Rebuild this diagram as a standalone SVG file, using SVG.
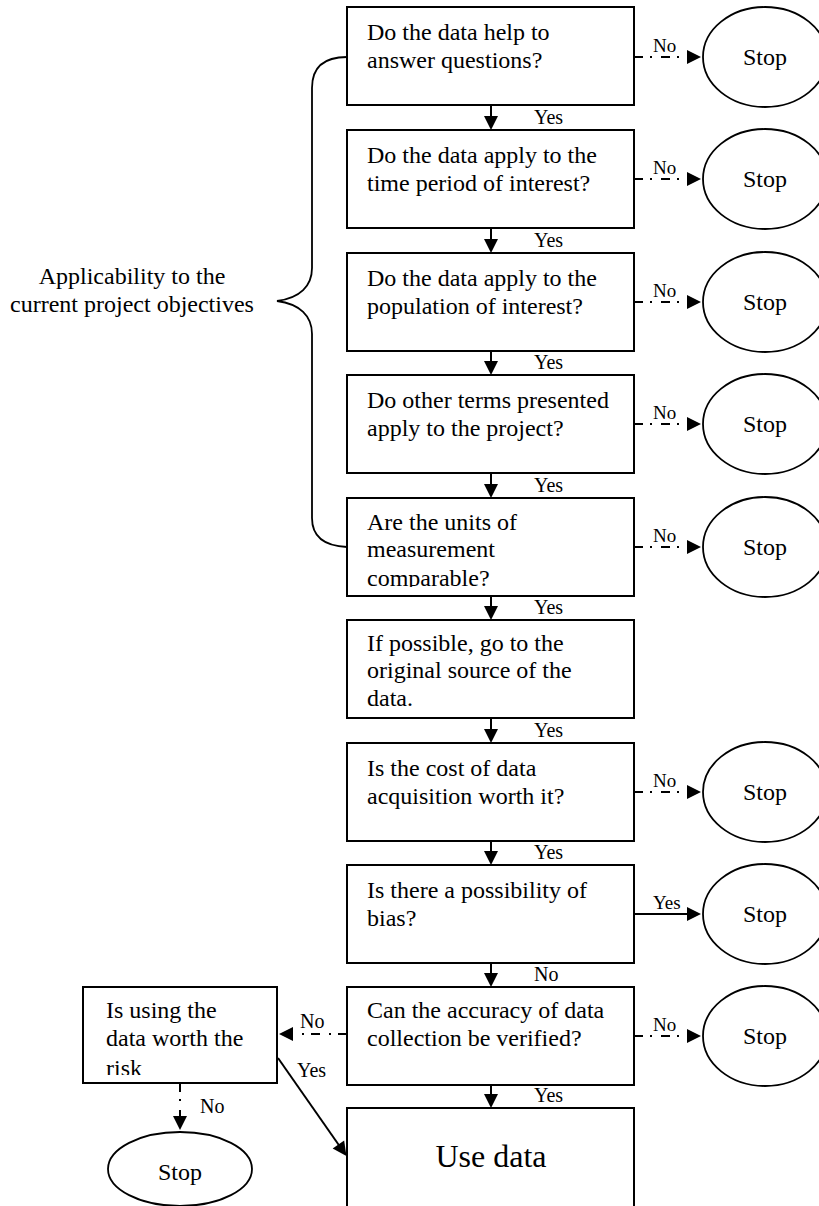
<svg xmlns="http://www.w3.org/2000/svg" width="819" height="1206" viewBox="0 0 819 1206">
  <style>
    .box { fill: #fff; stroke: #000; stroke-width: 2; }
    .stop { fill: #fff; stroke: #000; stroke-width: 1.8; }
    .t { font-family: "Liberation Serif", "Times New Roman", serif; font-size: 24px; fill: #000; }
    .stopt { font-family: "Liberation Serif", "Times New Roman", serif; font-size: 24px; fill: #000; text-anchor: middle; }
    .lbl { font-family: "Liberation Serif", "Times New Roman", serif; font-size: 20px; fill: #000; }
    .lbls { font-family: "Liberation Serif", "Times New Roman", serif; font-size: 19px; fill: #000; }
    .solid { stroke: #000; stroke-width: 2; fill: none; marker-end: url(#arr); }
    .dash { stroke: #000; stroke-width: 2; fill: none; stroke-dasharray: 9 7 2 9; marker-end: url(#arr); }
    .brace { stroke: #000; stroke-width: 1.8; fill: none; }
  </style>
  <defs>
    <marker id="arr" markerUnits="userSpaceOnUse" markerWidth="16" markerHeight="16" refX="8" refY="7" orient="auto" overflow="visible">
      <path d="M0,0 L14,7 L0,14 z" fill="#000"/>
    </marker>
    <clipPath id="clip-units"><rect x="347" y="498" width="287" height="89"/></clipPath>
    <clipPath id="clip-risk"><rect x="83" y="987" width="194" height="88"/></clipPath>
  </defs>

  <!-- brace grouping the first five questions -->
  <g id="applicability">
    <path class="brace" d="M347,57 C326,57 312,66 312,88 L312,268 C312,286 300,298 277,301 C300,304 312,316 312,334 L312,518 C312,536 324,546 347,547"/>
    <text class="t" x="132" y="284" text-anchor="middle">Applicability to the</text>
    <text class="t" x="132" y="312" text-anchor="middle">current project objectives</text>
  </g>

  <!-- connectors -->
  <g id="connectors">
    <!-- main column -->
    <path class="solid" d="M491,105 V124"/>
    <path class="solid" d="M491,228 V247"/>
    <path class="solid" d="M491,351 V369"/>
    <path class="solid" d="M491,473 V492"/>
    <path class="solid" d="M491,596 V614"/>
    <path class="solid" d="M491,718 V737"/>
    <path class="solid" d="M491,841 V859"/>
    <path class="solid" d="M491,963 V981"/>
    <path class="solid" d="M491,1085 V1102"/>
    <text class="lbl" x="534" y="124">Yes</text>
    <text class="lbl" x="534" y="247">Yes</text>
    <text class="lbl" x="534" y="369">Yes</text>
    <text class="lbl" x="534" y="492">Yes</text>
    <text class="lbl" x="534" y="614">Yes</text>
    <text class="lbl" x="534" y="737">Yes</text>
    <text class="lbl" x="534" y="859">Yes</text>
    <text class="lbl" x="534" y="981">No</text>
    <text class="lbl" x="534" y="1102">Yes</text>

    <!-- side exits to Stop -->
    <path class="dash" d="M634,57 H695"/>
    <path class="dash" d="M634,179 H695"/>
    <path class="dash" d="M634,302 H695"/>
    <path class="dash" d="M634,424 H695"/>
    <path class="dash" d="M634,547 H695"/>
    <path class="dash" d="M634,792 H695"/>
    <path class="solid" d="M634,914 H695"/>
    <path class="dash" d="M634,1036 H695"/>
    <text class="lbls" x="653" y="52">No</text>
    <text class="lbls" x="653" y="174">No</text>
    <text class="lbls" x="653" y="297">No</text>
    <text class="lbls" x="653" y="419">No</text>
    <text class="lbls" x="653" y="542">No</text>
    <text class="lbls" x="653" y="787">No</text>
    <text class="lbls" x="653" y="909">Yes</text>
    <text class="lbls" x="653" y="1031">No</text>

    <!-- verification fallback -->
    <path class="dash" d="M347,1034 H285"/>
    <text class="lbl" x="300" y="1028">No</text>
    <path class="solid" d="M278,1058 L343,1151"/>
    <text class="lbl" x="297" y="1077">Yes</text>
    <path class="dash" d="M180,1083 V1124"/>
    <text class="lbl" x="200" y="1113">No</text>
  </g>

  <!-- question boxes -->
  <g id="q1">
    <rect class="box" x="347" y="7" width="287" height="98"/>
    <text class="t" x="367" y="40">Do the data help to</text>
    <text class="t" x="367" y="68">answer questions?</text>
  </g>
  <g id="q2">
    <rect class="box" x="347" y="130" width="287" height="98"/>
    <text class="t" x="367" y="163">Do the data apply to the</text>
    <text class="t" x="367" y="191">time period of interest?</text>
  </g>
  <g id="q3">
    <rect class="box" x="347" y="253" width="287" height="98"/>
    <text class="t" x="367" y="286">Do the data apply to the</text>
    <text class="t" x="367" y="314">population of interest?</text>
  </g>
  <g id="q4">
    <rect class="box" x="347" y="375" width="287" height="98"/>
    <text class="t" x="367" y="408">Do other terms presented</text>
    <text class="t" x="367" y="436">apply to the project?</text>
  </g>
  <g id="q5">
    <rect class="box" x="347" y="498" width="287" height="98"/>
    <g clip-path="url(#clip-units)">
      <text class="t" x="367" y="530">Are the units of</text>
      <text class="t" x="367" y="557">measurement</text>
      <text class="t" x="367" y="586">comparable?</text>
    </g>
  </g>
  <g id="q6">
    <rect class="box" x="347" y="620" width="287" height="98"/>
    <text class="t" x="367" y="651">If possible, go to the</text>
    <text class="t" x="367" y="678">original source of the</text>
    <text class="t" x="367" y="706">data.</text>
  </g>
  <g id="q7">
    <rect class="box" x="347" y="743" width="287" height="98"/>
    <text class="t" x="367" y="776">Is the cost of data</text>
    <text class="t" x="367" y="804">acquisition worth it?</text>
  </g>
  <g id="q8">
    <rect class="box" x="347" y="865" width="287" height="98"/>
    <text class="t" x="367" y="898">Is there a possibility of</text>
    <text class="t" x="367" y="926">bias?</text>
  </g>
  <g id="q9">
    <rect class="box" x="347" y="987" width="287" height="98"/>
    <text class="t" x="367" y="1018">Can the accuracy of data</text>
    <text class="t" x="367" y="1046">collection be verified?</text>
  </g>
  <g id="use-data">
    <rect class="box" x="347" y="1108" width="287" height="110"/>
    <text class="t" x="491" y="1167" text-anchor="middle" style="font-size:32px">Use data</text>
  </g>
  <g id="risk">
    <rect class="box" x="83" y="987" width="194" height="96"/>
    <g clip-path="url(#clip-risk)">
      <text class="t" x="106" y="1018">Is using the</text>
      <text class="t" x="106" y="1046">data worth the</text>
      <text class="t" x="106" y="1076">risk</text>
    </g>
  </g>

  <!-- terminal nodes -->
  <g id="stop1"><ellipse class="stop" cx="765" cy="57" rx="62" ry="50"/><text class="stopt" x="765" y="65">Stop</text></g>
  <g id="stop2"><ellipse class="stop" cx="765" cy="179" rx="62" ry="50"/><text class="stopt" x="765" y="187">Stop</text></g>
  <g id="stop3"><ellipse class="stop" cx="765" cy="302" rx="62" ry="50"/><text class="stopt" x="765" y="310">Stop</text></g>
  <g id="stop4"><ellipse class="stop" cx="765" cy="424" rx="62" ry="50"/><text class="stopt" x="765" y="432">Stop</text></g>
  <g id="stop5"><ellipse class="stop" cx="765" cy="547" rx="62" ry="50"/><text class="stopt" x="765" y="555">Stop</text></g>
  <g id="stop7"><ellipse class="stop" cx="765" cy="792" rx="62" ry="50"/><text class="stopt" x="765" y="800">Stop</text></g>
  <g id="stop8"><ellipse class="stop" cx="765" cy="914" rx="62" ry="50"/><text class="stopt" x="765" y="922">Stop</text></g>
  <g id="stop9"><ellipse class="stop" cx="765" cy="1036" rx="62" ry="50"/><text class="stopt" x="765" y="1044">Stop</text></g>
  <g id="stop-risk"><ellipse class="stop" cx="180" cy="1169" rx="72" ry="37"/><text class="stopt" x="180" y="1180">Stop</text></g>
</svg>
